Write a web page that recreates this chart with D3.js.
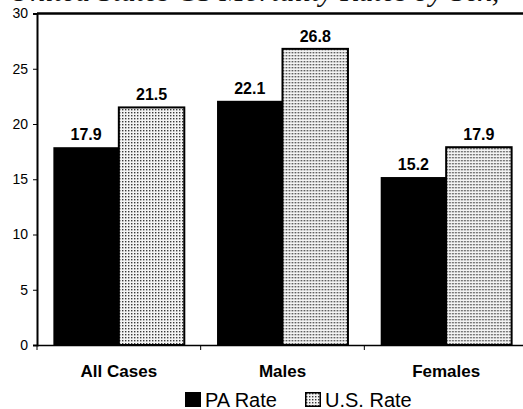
<!DOCTYPE html>
<html>
<head>
<meta charset="utf-8">
<script src="https://cdn.jsdelivr.net/npm/d3@7"></script>
<style>
  html, body { margin: 0; padding: 0; background: #fff; }
  svg { display: block; }
</style>
</head>
<body>
<svg id="chart" width="523" height="409"></svg>
<script>
// Mortality rates per 100,000, Pennsylvania vs. United States
const categories = ["All Cases", "Males", "Females"];
const seriesNames = ["PA Rate", "U.S. Rate"];
const paRate = [17.9, 22.1, 15.2];
const usRate = [21.5, 26.8, 17.9];
const yTicks = [0, 5, 10, 15, 20, 25, 30];
const titleText = "United States CS Mortality Rates by Sex,";

const SANS = "'Liberation Sans', Arial, sans-serif";
const svg = d3.select("#chart");
const plot = { left: 37, right: 528, top: 13.5, bottom: 345 };

// stipple fill for the U.S. series
const defs = svg.append("defs");
const pat = defs.append("pattern")
  .attr("id", "stipple")
  .attr("patternUnits", "userSpaceOnUse")
  .attr("width", 3).attr("height", 3);
pat.append("rect").attr("width", 3).attr("height", 3).attr("fill", "#f4f4f4");
pat.append("rect").attr("x", 1).attr("y", 1).attr("width", 1.4).attr("height", 1.4).attr("fill", "#3a3a3a");

// title (runs off the top of the page)
svg.append("text")
  .attr("x", 254).attr("y", 0.5)
  .attr("text-anchor", "middle")
  .attr("font-family", "'Liberation Serif', 'Times New Roman', serif")
  .attr("font-style", "italic")
  .attr("font-size", 30)
  .attr("fill", "#111")
  .text(titleText);

const x0 = d3.scaleBand().domain(categories).range([plot.left, plot.right]).padding(0);
const x1 = d3.scaleBand().domain(seriesNames).range([0, x0.bandwidth()])
  .paddingInner(0).paddingOuter(0.25);
const y = d3.scaleLinear().domain([0, 30]).range([plot.bottom, plot.top]);

const rows = categories.map((c, i) => ({
  cat: c,
  values: [
    { key: seriesNames[0], v: paRate[i] },
    { key: seriesNames[1], v: usRate[i] }
  ]
}));

// plot frame (top edge)
svg.append("line")
  .attr("x1", plot.left).attr("x2", plot.right)
  .attr("y1", plot.top).attr("y2", plot.top)
  .attr("stroke", "#000").attr("stroke-width", 2.5);

// bars
const groups = svg.selectAll("g.grp").data(rows).enter().append("g")
  .attr("class", "grp")
  .attr("transform", d => `translate(${x0(d.cat)},0)`);

groups.selectAll("rect").data(d => d.values).enter().append("rect")
  .attr("x", d => x1(d.key))
  .attr("y", d => y(d.v))
  .attr("width", x1.bandwidth())
  .attr("height", d => y(0) - y(d.v))
  .attr("fill", d => d.key === seriesNames[0] ? "#000" : "url(#stipple)")
  .attr("stroke", "#000")
  .attr("stroke-width", d => d.key === seriesNames[0] ? 0 : 2);

// value labels
groups.selectAll("text.val").data(d => d.values).enter().append("text")
  .attr("class", "val")
  .attr("x", d => x1(d.key) + x1.bandwidth() / 2)
  .attr("y", d => y(d.v) - 7)
  .attr("text-anchor", "middle")
  .attr("font-family", SANS)
  .attr("font-weight", "bold")
  .attr("font-size", 16)
  .text(d => d.v.toFixed(1));

// y axis
const yAxis = d3.axisLeft(y).tickValues(yTicks).tickSize(4).tickPadding(5).tickFormat(d3.format("d"));
const gy = svg.append("g").attr("transform", `translate(${plot.left},0)`).call(yAxis);
gy.select(".domain").attr("stroke", "#000").attr("stroke-width", 2);
gy.selectAll(".tick line").attr("stroke", "#000").attr("stroke-width", 1);
gy.selectAll(".tick text")
  .attr("font-family", SANS)
  .attr("font-size", 14).attr("fill", "#000");

// x axis
const xAxis = d3.axisBottom(x0).tickSize(0).tickFormat("");
const gx = svg.append("g").attr("transform", `translate(0,${plot.bottom})`).call(xAxis);
gx.select(".domain").attr("stroke", "#000").attr("stroke-width", 1.5);
gx.selectAll(".tick").remove();
// category separators
gx.selectAll("line.sep").data(categories).enter().append("line")
  .attr("class", "sep")
  .attr("x1", d => x0(d)).attr("x2", d => x0(d))
  .attr("y1", 0).attr("y2", 5)
  .attr("stroke", "#000").attr("stroke-width", 1);

// category labels
svg.selectAll("text.cat").data(categories).enter().append("text")
  .attr("class", "cat")
  .attr("x", d => x0(d) + x0.bandwidth() / 2)
  .attr("y", 377)
  .attr("text-anchor", "middle")
  .attr("font-family", SANS)
  .attr("font-weight", "bold")
  .attr("font-size", 17)
  .text(d => d);

// legend
const legend = svg.append("g").attr("transform", "translate(185,392)");
const legendItems = [
  { name: seriesNames[0], fill: "#000", dx: 0, sw: 0 },
  { name: seriesNames[1], fill: "url(#stipple)", dx: 120, sw: 1.5 }
];
const li = legend.selectAll("g").data(legendItems).enter().append("g")
  .attr("transform", d => `translate(${d.dx},0)`);
li.append("rect")
  .attr("x", d => d.sw / 2).attr("y", d => d.sw / 2)
  .attr("width", d => 16 - d.sw).attr("height", d => 15 - d.sw)
  .attr("fill", d => d.fill)
  .attr("stroke", "#000").attr("stroke-width", d => d.sw);
li.append("text")
  .attr("x", 20).attr("y", 14.5)
  .attr("font-family", SANS)
  .attr("font-size", 20)
  .text(d => d.name);
</script>
</body>
</html>
